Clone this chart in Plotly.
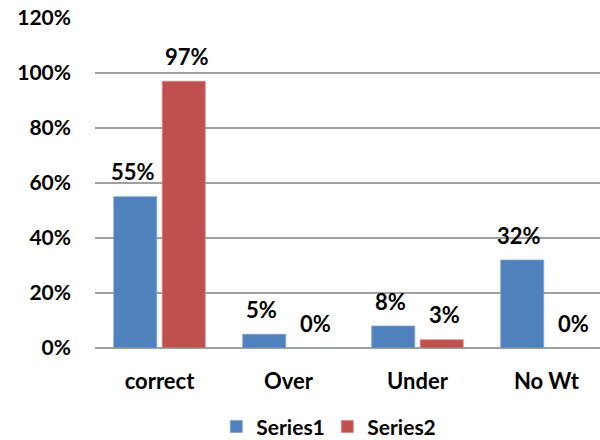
import plotly.graph_objects as go

categories = ["correct", "Over", "Under", "No Wt"]
series1 = [0.55, 0.05, 0.08, 0.32]
series2 = [0.97, 0.00, 0.03, 0.00]
y_ticks = [0, 0.2, 0.4, 0.6, 0.8, 1.0, 1.2]
y_tick_labels = ["0%", "20%", "40%", "60%", "80%", "100%", "120%"]

blue = "#4F81BD"
red = "#C0504D"
font_family = "Lato, 'Open Sans', sans-serif"

fig = go.Figure()
fig.add_trace(go.Bar(name="Series1", x=categories, y=series1,
                     marker=dict(color=blue, line=dict(color="#7FA3D0", width=0.8))))
fig.add_trace(go.Bar(name="Series2", x=categories, y=series2,
                     marker=dict(color=red, line=dict(color="#D88683", width=0.8))))

# value labels above each bar
for vals, shift in ((series1, -27), (series2, 27)):
    for cat, v in zip(categories, vals):
        fig.add_annotation(x=cat, y=v, text=f"{v:.0%}", showarrow=False,
                           xshift=shift, yshift=25, yanchor="middle",
                           font=dict(family=font_family, size=22, color="black",
                                     weight="bold"))

fig.update_layout(
    width=600, height=440,
    margin=dict(l=95, r=0, t=18, b=92, autoexpand=False),
    paper_bgcolor="white", plot_bgcolor="white",
    barmode="group", bargap=0.248, bargroupgap=0.113,
    font=dict(family=font_family, size=21, color="black", weight="bold"),
    showlegend=True,
    legend=dict(orientation="h", x=0.46, xanchor="center",
                yref="container", y=0.03, yanchor="middle",
                font=dict(size=21, weight="bold"),
                itemwidth=30, entrywidth=66, traceorder="normal"),
)
fig.update_xaxes(range=[-0.5, 3.415], showgrid=False, showline=False,
                 ticks="", ticklabelstandoff=18, automargin=False,
                 tickfont=dict(size=22, weight="bold"))
fig.update_yaxes(range=[0, 1.2], tickvals=y_ticks, ticktext=y_tick_labels,
                 showgrid=True, gridcolor="#A0A0A0", gridwidth=1.5,
                 zeroline=True, zerolinecolor="#A0A0A0", zerolinewidth=1.5,
                 showline=False, ticks="", ticklabelstandoff=23, automargin=False,
                 tickfont=dict(size=21, weight="bold"))

fig.write_html("out.html")
